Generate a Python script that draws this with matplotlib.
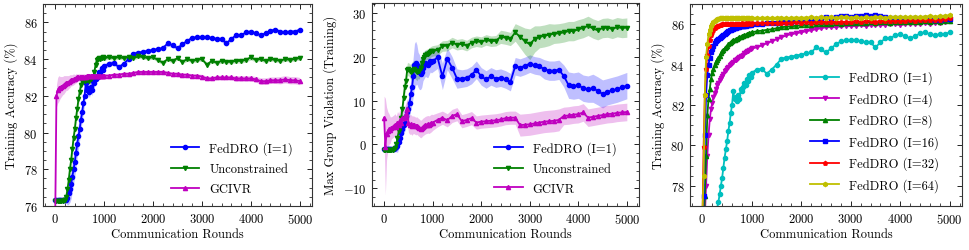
import numpy as np
import matplotlib
matplotlib.use("Agg")
import matplotlib.pyplot as plt
from matplotlib.ticker import AutoMinorLocator, MultipleLocator

plt.rcParams['font.family'] = ['cmr10', 'DejaVu Serif']
plt.rcParams['mathtext.fontset'] = 'cm'
plt.rcParams['axes.formatter.use_mathtext'] = True
plt.rcParams['axes.unicode_minus'] = True
plt.rcParams['font.size'] = 9

# ---------------- data ----------------
rounds = list(range(0, 1000, 25)) + list(range(1000, 5001, 100))

# Panel 1: training accuracy
acc_fed_i1 = [76.3, 76.3, 76.3, 76.3, 76.3, 76.3, 76.3, 76.3, 76.3, 76.35,
              76.45, 76.7, 76.9, 77.2, 77.6, 78.0, 78.4, 78.9, 79.4, 79.8,
              80.2, 80.7, 81.1, 81.6, 82.0, 82.7, 82.3, 82.4, 82.2, 82.5,
              82.3, 82.8, 82.7, 82.9, 83.1, 83.0, 83.3, 83.2, 83.5, 83.4,
              83.6, 83.75, 83.8, 83.55, 83.75, 84.0, 84.3, 84.35, 84.4, 84.45,
              84.5, 84.55, 84.6, 84.85, 84.75, 84.6, 84.8, 85.0, 85.15, 85.2,
              85.2, 85.2, 85.15, 85.1, 85.1, 84.85, 85.1, 85.3, 85.3, 85.45,
              85.5, 85.4, 85.3, 85.4, 85.55, 85.6, 85.5, 85.45, 85.5, 85.5, 85.6]
acc_fed_i1_std = [0.05, 0.05, 0.05, 0.05, 0.05, 0.05, 0.05, 0.05, 0.05, 0.2,
                  0.4, 0.6, 0.7, 0.8, 0.8, 0.8, 0.8, 0.8, 0.7, 0.7,
                  0.6, 0.6, 0.5, 0.5, 0.5, 0.4, 0.4, 0.35, 0.3, 0.3,
                  0.3, 0.25, 0.25, 0.2, 0.2, 0.2, 0.2, 0.2, 0.15, 0.15,
                  0.15, 0.15, 0.12, 0.15, 0.12, 0.12, 0.12, 0.1, 0.12, 0.1,
                  0.12, 0.1, 0.12, 0.15, 0.12, 0.1, 0.12, 0.1, 0.12, 0.1,
                  0.1, 0.12, 0.1, 0.1, 0.12, 0.15, 0.1, 0.12, 0.1, 0.1,
                  0.12, 0.1, 0.12, 0.1, 0.1, 0.12, 0.1, 0.1, 0.12, 0.1, 0.1]
acc_uncon = [76.25, 76.25, 76.25, 76.25, 76.25, 76.25, 76.25, 76.3, 76.35, 76.5,
             76.9, 77.4, 78.0, 78.5, 79.1, 79.7, 80.2, 80.8, 81.3, 81.8,
             82.2, 82.6, 82.8, 82.85, 82.8, 82.9, 82.85, 82.9, 82.8, 82.9,
             83.0, 83.05, 83.3, 83.7, 83.95, 84.0, 84.05, 84.0, 84.05, 84.1,
             84.05, 84.1, 84.05, 84.1, 84.05, 84.1, 84.05, 84.15, 84.1, 84.05,
             84.1, 83.95, 83.8, 84.0, 83.9, 84.05, 83.85, 84.0, 83.9, 83.95,
             84.0, 83.7, 83.9, 83.8, 83.9, 83.85, 83.85, 83.9, 83.9, 83.95,
             84.1, 83.95, 84.0, 83.9, 84.0, 83.95, 83.9, 84.0, 83.95, 84.0, 84.05]
acc_uncon_std = [0.05, 0.05, 0.05, 0.05, 0.05, 0.05, 0.05, 0.05, 0.05, 0.1,
                 0.2, 0.3, 0.3, 0.3, 0.3, 0.3, 0.3, 0.3, 0.3, 0.3,
                 0.25, 0.25, 0.2, 0.2, 0.2, 0.2, 0.2, 0.2, 0.2, 0.2,
                 0.2, 0.2, 0.2, 0.2, 0.15, 0.15, 0.15, 0.15, 0.12, 0.12,
                 0.12, 0.1, 0.12, 0.1, 0.1, 0.12, 0.1, 0.1, 0.1, 0.1,
                 0.1, 0.12, 0.1, 0.1, 0.12, 0.1, 0.1, 0.12, 0.1, 0.1,
                 0.1, 0.12, 0.1, 0.1, 0.12, 0.1, 0.1, 0.1, 0.12, 0.1,
                 0.15, 0.1, 0.1, 0.12, 0.1, 0.1, 0.1, 0.12, 0.1, 0.1, 0.1]
acc_gcivr = [75.5, 82.0, 82.3, 82.4, 82.45, 82.5, 82.55, 82.6, 82.65, 82.7,
             82.7, 82.75, 82.8, 82.85, 82.85, 82.9, 82.9, 82.95, 83.0, 83.0,
             83.0, 83.0, 83.05, 83.05, 83.05, 83.05, 83.1, 83.1, 83.1, 83.1,
             83.1, 83.1, 83.1, 83.1, 83.1, 83.1, 83.1, 83.1, 83.1, 83.1,
             83.1, 83.1, 83.15, 83.15, 83.2, 83.2, 83.25, 83.3, 83.3, 83.3,
             83.3, 83.3, 83.3, 83.25, 83.2, 83.2, 83.15, 83.15, 83.1, 83.1,
             83.05, 82.95, 82.95, 83.0, 83.0, 83.0, 83.0, 82.95, 82.95, 82.95,
             82.95, 82.9, 82.8, 82.8, 82.85, 82.85, 82.85, 82.9, 82.85, 82.85, 82.8]
acc_gcivr_std = [0.3, 0.6, 0.7, 0.7, 0.6, 0.55, 0.5, 0.5, 0.45, 0.4,
                 0.4, 0.35, 0.35, 0.3, 0.3, 0.3, 0.25, 0.25, 0.2, 0.2,
                 0.2, 0.2, 0.15, 0.15, 0.15, 0.12, 0.12, 0.12, 0.1, 0.1,
                 0.1, 0.1, 0.1, 0.1, 0.1, 0.1, 0.1, 0.1, 0.1, 0.1,
                 0.1, 0.1, 0.1, 0.1, 0.1, 0.1, 0.1, 0.1, 0.1, 0.1,
                 0.1, 0.1, 0.1, 0.1, 0.1, 0.1, 0.1, 0.1, 0.1, 0.1,
                 0.12, 0.12, 0.12, 0.12, 0.12, 0.12, 0.12, 0.15, 0.15, 0.15,
                 0.15, 0.15, 0.18, 0.18, 0.18, 0.18, 0.2, 0.2, 0.2, 0.2, 0.2]

# Panel 2: max group violation
viol_fed_i1 = [-1.0, -1.1, -1.0, -1.1, -1.0, -1.1, -1.0, -1.0, -1.1, -0.8,
               -0.5, -0.3, 0.5, 1.5, 2.7, 3.5, 4.5, 5.0, 6.5, 7.5,
               8.0, 9.5, 11.5, 13.0, 15.5, 18.0, 18.5, 18.2, 17.0, 16.5,
               16.0, 16.5, 17.5, 18.0, 18.5, 18.3, 18.0, 18.6, 19.0, 18.8,
               19.0, 19.8, 15.5, 19.5, 17.5, 15.0, 15.0, 15.2, 15.8, 17.0,
               15.5, 14.8, 15.5, 15.0, 15.2, 14.8, 14.2, 17.8, 17.5, 17.9,
               18.4, 18.0, 17.8, 17.1, 16.8, 16.8, 17.0, 15.6, 13.5, 13.3,
               13.5, 12.8, 12.6, 12.8, 12.2, 11.5, 12.0, 12.3, 12.6, 13.0, 13.4]
viol_fed_i1_std = [0.3, 0.3, 0.3, 0.3, 0.3, 0.3, 0.3, 0.3, 0.4, 0.8,
                   1.2, 1.5, 1.5, 1.5, 1.5, 1.8, 2.0, 2.0, 2.2, 2.5,
                   2.5, 3.0, 3.5, 4.0, 4.5, 5.0, 5.0, 4.5, 4.0, 4.0,
                   3.5, 3.5, 3.0, 3.0, 3.0, 3.0, 2.8, 2.8, 2.5, 2.5,
                   2.5, 2.5, 3.0, 2.5, 2.5, 2.2, 2.0, 2.0, 2.0, 2.0,
                   2.0, 2.0, 2.0, 2.0, 2.0, 2.0, 2.0, 2.0, 2.0, 2.0,
                   2.0, 2.0, 2.0, 2.2, 2.2, 2.2, 2.2, 2.5, 3.0, 3.0,
                   3.0, 3.0, 3.0, 3.2, 3.2, 3.2, 3.0, 3.0, 3.0, 3.0, 3.0]
viol_uncon = [-1.2, -1.2, -1.3, -1.2, -1.2, -1.3, -1.2, -1.2, -1.1, -0.8,
              0.0, 1.5, 3.0, 4.2, 6.0, 8.0, 10.5, 13.0, 14.5, 17.0,
              17.2, 16.8, 16.5, 16.8, 17.0, 17.2, 16.8, 16.5, 16.8, 16.7,
              17.5, 18.5, 19.5, 19.8, 20.3, 20.5, 20.5, 20.8, 21.0, 21.2,
              21.3, 21.5, 22.4, 22.5, 23.2, 22.7, 22.9, 22.5, 23.2, 23.5,
              23.3, 23.8, 23.5, 23.6, 24.5, 24.3, 24.0, 25.5, 24.5, 23.5,
              22.8, 24.0, 24.5, 24.7, 25.0, 25.2, 25.3, 25.5, 25.8, 25.8,
              26.2, 26.5, 27.0, 26.4, 26.0, 26.5, 26.6, 26.3, 26.7, 26.5, 26.6]
viol_uncon_std = [0.3, 0.3, 0.3, 0.3, 0.3, 0.3, 0.3, 0.3, 0.3, 0.5,
                  0.8, 1.0, 1.0, 1.0, 1.2, 1.2, 1.5, 1.5, 1.5, 1.5,
                  1.5, 1.5, 1.8, 2.0, 2.0, 2.0, 2.0, 2.0, 1.8, 1.8,
                  1.5, 1.5, 1.5, 1.5, 1.2, 1.2, 1.2, 1.2, 1.2, 1.2,
                  1.2, 1.2, 1.2, 1.2, 1.2, 1.2, 1.2, 1.2, 1.2, 1.2,
                  1.2, 1.2, 1.2, 1.2, 1.5, 1.5, 1.5, 2.0, 2.5, 3.0,
                  3.5, 3.0, 2.5, 2.5, 2.5, 2.2, 2.2, 2.2, 2.2, 2.2,
                  2.2, 2.2, 2.2, 2.2, 2.2, 2.2, 2.2, 2.2, 2.2, 2.2, 2.2]
viol_gcivr = [6.0, -0.5, 2.5, 3.0, 3.5, 3.3, 3.8, 4.0, 4.2, 4.5,
              4.0, 5.0, 4.5, 5.5, 5.0, 6.0, 6.0, 6.3, 7.0, 8.0,
              5.0, 4.5, 4.6, 4.3, 4.5, 4.4, 4.2, 4.3, 4.0, 3.8,
              3.5, 3.7, 4.0, 4.2, 4.4, 4.5, 4.6, 4.5, 4.7, 4.9,
              5.0, 5.6, 6.1, 5.5, 6.5, 6.9, 5.3, 5.6, 6.0, 5.0,
              5.2, 5.3, 5.4, 5.5, 5.7, 6.0, 6.1, 6.1, 4.4, 4.5,
              4.6, 4.8, 5.0, 5.2, 5.3, 5.4, 5.6, 6.5, 6.6, 6.8,
              6.9, 7.3, 6.1, 6.3, 6.5, 6.7, 6.9, 7.0, 7.2, 7.3, 7.4]
viol_gcivr_std = [5.0, 11.0, 6.0, 4.5, 3.5, 3.0, 2.5, 2.5, 2.5, 2.5,
                  2.5, 2.5, 2.5, 2.5, 2.5, 2.5, 2.5, 2.5, 2.5, 2.5,
                  2.2, 2.2, 2.2, 2.2, 2.0, 2.0, 2.0, 2.0, 2.0, 2.0,
                  2.0, 2.0, 2.0, 2.0, 2.0, 2.0, 2.0, 2.0, 2.0, 2.0,
                  1.8, 1.6, 1.5, 1.5, 1.5, 1.5, 1.5, 1.5, 1.5, 1.5,
                  1.5, 1.5, 1.5, 1.5, 1.5, 1.5, 1.5, 1.5, 2.5, 2.5,
                  2.5, 2.5, 2.5, 2.5, 2.5, 2.5, 2.5, 2.0, 2.0, 2.0,
                  2.0, 2.0, 2.0, 2.0, 2.0, 2.0, 2.0, 2.0, 2.0, 2.0, 2.0]

# Panel 3: training accuracy for different local steps I
acc_fed_i4 = [70.0, 73.0, 76.5, 78.0, 79.5, 80.5, 81.3, 81.8, 82.1, 82.4,
              82.6, 82.8, 83.0, 83.1, 83.25, 83.35, 83.45, 83.55, 83.7, 83.75,
              83.85, 83.9, 84.0, 84.05, 84.1, 84.15, 84.25, 84.25, 84.3, 84.35,
              84.4, 84.45, 84.45, 84.5, 84.55, 84.6, 84.65, 84.65, 84.7, 84.75,
              84.8, 84.85, 84.95, 85.05, 85.15, 85.25, 85.35, 85.45, 85.5, 85.55,
              85.6, 85.65, 85.7, 85.75, 85.8, 85.85, 85.85, 85.85, 85.9, 85.9,
              85.9, 85.9, 85.95, 85.9, 85.95, 85.95, 85.95, 85.95, 86.0, 86.0,
              85.95, 86.0, 86.0, 86.0, 86.0, 86.05, 86.0, 86.05, 86.05, 86.1, 86.15]
acc_fed_i8 = [73.0, 75.5, 77.5, 79.5, 81.5, 82.3, 82.8, 83.3, 83.6, 83.8,
              84.0, 84.15, 84.25, 84.35, 84.45, 84.55, 84.65, 84.7, 84.8, 84.85,
              84.9, 85.0, 85.05, 85.1, 85.15, 85.2, 85.22, 85.25, 85.28, 85.32,
              85.35, 85.38, 85.4, 85.42, 85.45, 85.48, 85.5, 85.52, 85.55, 85.57,
              85.6, 85.65, 85.68, 85.72, 85.75, 85.8, 85.85, 85.88, 85.9, 85.92,
              85.95, 85.97, 85.98, 86.0, 86.0, 86.02, 86.0, 86.05, 86.03, 86.05,
              86.05, 86.07, 86.05, 86.08, 86.1, 86.08, 86.1, 86.1, 86.08, 86.1,
              86.12, 86.1, 86.12, 86.1, 86.12, 86.15, 86.12, 86.15, 86.13, 86.15, 86.18]
acc_fed_i16 = [74.0, 77.5, 80.5, 82.5, 83.5, 84.0, 84.35, 84.6, 84.75, 84.9,
               85.05, 85.15, 85.2, 85.25, 85.3, 85.35, 85.4, 85.45, 85.5, 85.55,
               85.6, 85.65, 85.7, 85.7, 85.75, 85.75, 85.8, 85.8, 85.85, 85.85,
               85.85, 85.9, 85.9, 85.9, 85.92, 85.92, 85.95, 85.95, 85.95, 85.97,
               86.0, 86.0, 86.02, 86.05, 86.05, 86.08, 86.1, 86.1, 86.12, 86.15,
               86.15, 86.2, 86.2, 86.25, 86.3, 86.35, 86.3, 86.35, 86.4, 86.4,
               86.35, 86.4, 86.4, 86.45, 86.4, 86.45, 86.4, 86.35, 86.3, 86.3,
               86.3, 86.25, 86.25, 86.3, 86.25, 86.3, 86.25, 86.2, 86.2, 86.25, 86.25]
acc_fed_i32 = [76.0, 79.9, 82.5, 83.8, 84.5, 84.9, 85.2, 85.45, 85.6, 85.7,
               85.8, 85.85, 85.9, 85.93, 85.95, 85.97, 86.0, 86.0, 86.0, 86.02,
               86.0, 86.02, 86.0, 86.02, 86.03, 86.0, 86.02, 86.03, 86.02, 86.03,
               86.02, 86.03, 86.05, 86.03, 86.02, 86.05, 86.03, 86.05, 86.05, 86.03,
               86.05, 86.05, 86.07, 86.05, 86.07, 86.05, 86.08, 86.07, 86.08, 86.1,
               86.08, 86.1, 86.08, 86.1, 86.1, 86.12, 86.1, 86.12, 86.1, 86.12,
               86.12, 86.15, 86.12, 86.15, 86.15, 86.12, 86.15, 86.15, 86.17, 86.15,
               86.17, 86.18, 86.2, 86.18, 86.2, 86.2, 86.22, 86.2, 86.22, 86.25, 86.3]
acc_fed_i64 = [76.5, 78.5, 82.5, 84.4, 85.0, 85.5, 85.7, 85.9, 86.0, 86.1,
               86.15, 86.2, 86.25, 86.28, 86.3, 86.3, 86.3, 86.32, 86.3, 86.3,
               86.32, 86.3, 86.3, 86.32, 86.3, 86.3, 86.32, 86.3, 86.3, 86.32,
               86.3, 86.32, 86.3, 86.3, 86.32, 86.3, 86.3, 86.32, 86.3, 86.3,
               86.3, 86.32, 86.3, 86.33, 86.3, 86.32, 86.33, 86.3, 86.32, 86.33,
               86.32, 86.33, 86.35, 86.32, 86.35, 86.33, 86.35, 86.32, 86.35, 86.35,
               86.33, 86.35, 86.32, 86.35, 86.33, 86.35, 86.35, 86.33, 86.35, 86.35,
               86.35, 86.37, 86.35, 86.38, 86.35, 86.38, 86.4, 86.38, 86.4, 86.42, 86.45]

xlabel = 'Communication Rounds'
labels_p12 = ['FedDRO (I=1)', 'Unconstrained', 'GCIVR']
labels_p3 = ['FedDRO (I=1)', 'FedDRO (I=4)', 'FedDRO (I=8)',
             'FedDRO (I=16)', 'FedDRO (I=32)', 'FedDRO (I=64)']

# ---------------- plotting ----------------
W, H = 969, 251
fig = plt.figure(figsize=(W / 100, H / 100), dpi=100)

def box(l, r, t, b):
    return [l / W, 1 - b / H, (r - l) / W, (b - t) / H]

ax1 = fig.add_axes(box(43, 312, 5, 207))
ax2 = fig.add_axes(box(372, 639, 4, 207))
ax3 = fig.add_axes(box(690, 962, 5, 207))

x = np.array(rounds)
LW = 1.3
MS = 3.0
FS = 9

def style(ax):
    ax.tick_params(which='both', direction='in', top=True, right=True, labelsize=FS)
    ax.tick_params(which='major', length=3.5, width=0.6, pad=4)
    ax.tick_params(which='minor', length=2, width=0.5)
    ax.xaxis.set_minor_locator(AutoMinorLocator())
    ax.yaxis.set_minor_locator(AutoMinorLocator())
    for s in ax.spines.values():
        s.set_linewidth(0.8)
        s.set_color('#333333')
    ax.set_xticks([0, 1000, 2000, 3000, 4000, 5000])
    ax.set_xlabel(xlabel, fontsize=FS, labelpad=2)

def band_line(ax, y, s, color, marker, label):
    y = np.array(y)
    if s is not None:
        s = np.array(s)
        ax.fill_between(x, y - s, y + s, color=color, alpha=0.25, lw=0)
    ax.plot(x, y, color=color, marker=marker, lw=LW, ms=MS, label=label)

def legend(ax, xr, yb):
    ax.legend(loc='lower right', bbox_to_anchor=(xr, yb), frameon=False,
              fontsize=FS, handlelength=2.3, handletextpad=0.8,
              labelspacing=0.62, borderaxespad=0, borderpad=0)

# Panel 1
band_line(ax1, acc_fed_i1, acc_fed_i1_std, 'b', 'o', labels_p12[0])
band_line(ax1, acc_uncon, acc_uncon_std, 'g', 'v', labels_p12[1])
band_line(ax1, acc_gcivr, acc_gcivr_std, 'm', '^', labels_p12[2])
ax1.set_ylim(76, 87)
ax1.set_xlim(-250, 5250)
ax1.yaxis.set_major_locator(MultipleLocator(2))
ax1.set_ylabel('Training Accuracy (%)', fontsize=FS, labelpad=4)
style(ax1)
legend(ax1, 0.93, 0.055)

# Panel 2
band_line(ax2, viol_fed_i1, viol_fed_i1_std, 'b', 'o', labels_p12[0])
band_line(ax2, viol_uncon, viol_uncon_std, 'g', 'v', labels_p12[1])
band_line(ax2, viol_gcivr, viol_gcivr_std, 'm', '^', labels_p12[2])
ax2.set_ylim(-14, 32.2)
ax2.set_xlim(-250, 5250)
ax2.yaxis.set_major_locator(MultipleLocator(10))
ax2.set_ylabel('Max Group Violation (Training)', fontsize=FS, labelpad=4)
style(ax2)
legend(ax2, 0.915, 0.055)

# Panel 3
for y, c, m, lab in [(acc_fed_i1, 'c', 'o', labels_p3[0]),
                     (acc_fed_i4, 'm', 'v', labels_p3[1]),
                     (acc_fed_i8, 'g', '^', labels_p3[2]),
                     (acc_fed_i16, 'b', 's', labels_p3[3]),
                     (acc_fed_i32, 'r', 'p', labels_p3[4]),
                     (acc_fed_i64, 'y', 'h', labels_p3[5])]:
    band_line(ax3, y, None, c, m, lab)
ax3.set_ylim(77, 87)
ax3.set_xlim(-250, 5250)
ax3.yaxis.set_major_locator(MultipleLocator(2))
ax3.set_ylabel('Training Accuracy (%)', fontsize=FS, labelpad=4)
style(ax3)
legend(ax3, 0.915, 0.07)

fig.savefig('out.png', dpi=100)
